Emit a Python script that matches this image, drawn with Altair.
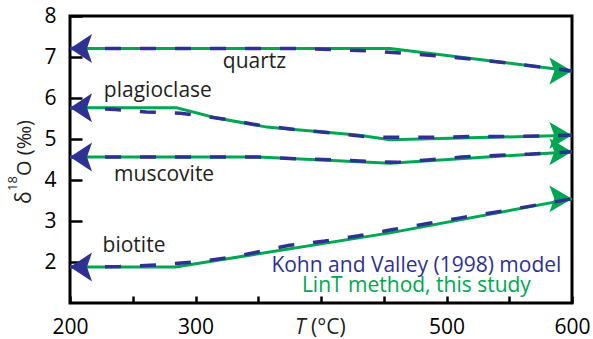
import altair as alt
import pandas as pd

GREEN = "#00a651"
BLUE = "#2e3192"
FONT = "Open Sans"

minerals = ["quartz", "plagioclase", "muscovite", "biotite"]

# LinT method (green, solid)
lint_T = {
    "quartz": [200, 455, 600],
    "plagioclase": [200, 285, 317, 357, 383, 429, 455, 600],
    "muscovite": [200, 350, 455, 600],
    "biotite": [200, 284, 455, 600],
}
lint_v = {
    "quartz": [7.21, 7.21, 6.66],
    "plagioclase": [5.76, 5.76, 5.51, 5.29, 5.22, 5.10, 4.98, 5.09],
    "muscovite": [4.56, 4.56, 4.41, 4.69],
    "biotite": [1.88, 1.88, 2.71, 3.54],
}

# Kohn and Valley (1998) model (blue, dashed)
kv_T = {
    "quartz": [200, 380, 440, 500, 550, 600],
    "plagioclase": [200, 236, 261, 288, 322, 350, 380, 410, 437, 460, 490, 520, 545, 600],
    "muscovite": [200, 350, 379, 411, 439, 461, 485, 512, 539, 565, 600],
    "biotite": [200, 240, 270, 300, 330, 375, 403, 430, 455, 485, 510, 540, 600],
}
kv_v = {
    "quartz": [7.21, 7.21, 7.15, 7.01, 6.85, 6.66],
    "plagioclase": [5.76, 5.72, 5.66, 5.63, 5.49, 5.34, 5.23, 5.14, 5.05, 5.04, 5.04, 5.06, 5.06, 5.09],
    "muscovite": [4.56, 4.56, 4.52, 4.49, 4.45, 4.43, 4.49, 4.56, 4.60, 4.63, 4.69],
    "biotite": [1.88, 1.89, 1.93, 2.00, 2.12, 2.41, 2.51, 2.64, 2.78, 2.94, 3.07, 3.22, 3.54],
}

# mineral label positions (T, value)
label_T = [347, 270, 275, 251]
label_v = [6.73, 6.02, 3.98, 2.24]

legend_texts = ["Kohn and Valley (1998) model", "LinT method, this study"]
legend_T = [476, 476]
legend_v = [1.756, 1.26]

x_ticks = [200, 250, 300, 350, 400, 450, 500, 550, 600]
y_ticks = [2, 3, 4, 5, 6, 7, 8]

rows = []
for m in minerals:
    for t, v in zip(lint_T[m], lint_v[m]):
        rows.append({"mineral": m, "method": "LinT", "T": t, "v": v})
    for t, v in zip(kv_T[m], kv_v[m]):
        rows.append({"mineral": m, "method": "KV", "T": t, "v": v})
df = pd.DataFrame(rows)
lint_df = df[df.method == "LinT"]
kv_df = df[df.method == "KV"]

right_end = lint_df[lint_df["T"] == 600]
left_end = kv_df[kv_df["T"] == 200]

labels_df = pd.DataFrame({"text": minerals, "T": label_T, "v": label_v})
legend_df = pd.DataFrame({"text": legend_texts, "T": legend_T, "v": legend_v,
                          "color": [BLUE, GREEN]})

xscale = alt.Scale(domain=[200, 600], nice=False, zero=False)
yscale = alt.Scale(domain=[1, 8], nice=False, zero=False)

xaxis = alt.Axis(values=x_ticks, title=None, domain=False, grid=False,
                 tickSize=7, offset=-7, tickWidth=2.5, tickColor="black",
                 labelExpr="(datum.value % 100 == 0 && datum.value != 400) ? datum.label : ''",
                 labelFont=FONT, labelFontSize=21, labelColor="black", labelPadding=13,
                 labelFlush=False)
yaxis = alt.Axis(values=y_ticks, title=None, domain=False, grid=False,
                 tickSize=12, offset=-12, tickWidth=2.5, tickColor="black",
                 labelFont=FONT, labelFontSize=21, labelColor="black", labelPadding=14,
                 labelFlush=False)

X = alt.X("T:Q", scale=xscale, axis=xaxis)
Y = alt.Y("v:Q", scale=yscale, axis=yaxis)

left_arrow = "M0,0L1.52,-1L1.17,0L1.52,1Z"
right_arrow = "M0,0L-1.6,-0.95L-1.25,0L-1.6,0.95Z"

green_lines = alt.Chart(lint_df).mark_line(color=GREEN, strokeWidth=3).encode(
    x=X, y=Y, detail="mineral:N")
green_arrows = alt.Chart(right_end).mark_point(
    shape=right_arrow, filled=True, fill=GREEN, stroke=GREEN, strokeWidth=0,
    size=800, opacity=1).encode(x=X, y=Y)
blue_lines = alt.Chart(kv_df).mark_line(color=BLUE, strokeWidth=3.5,
                                         strokeDash=[16, 19]).encode(
    x=X, y=Y, detail="mineral:N")
blue_arrows = alt.Chart(left_end).mark_point(
    shape=left_arrow, filled=True, fill=BLUE, stroke=BLUE, strokeWidth=0,
    size=841, opacity=1).encode(x=X, y=Y)

mineral_labels = alt.Chart(labels_df).mark_text(
    font=FONT, fontSize=21, color="#231f20", align="center",
    baseline="alphabetic").encode(x=X, y=Y, text="text:N")

legend_labels = alt.Chart(legend_df).mark_text(
    font=FONT, fontSize=21, align="center", baseline="alphabetic").encode(
    x=X, y=Y, text="text:N", color=alt.Color("color:N", scale=None))

# y-axis title: δ18O (‰)
ytitle_main1 = alt.Chart().mark_text(
    text="δ", font=FONT, fontSize=21, angle=270, align="left",
    baseline="alphabetic", color="#231f20").encode(
    x=alt.value(-39), y=alt.value(188))
ytitle_sup = alt.Chart().mark_text(
    text="18", font=FONT, fontSize=13, angle=270, align="left",
    baseline="alphabetic", color="#231f20").encode(
    x=alt.value(-53), y=alt.value(175))
ytitle_main2 = alt.Chart().mark_text(
    text="O (‰)", font=FONT, fontSize=20, angle=270, align="left",
    baseline="alphabetic", color="#231f20").encode(
    x=alt.value(-39), y=alt.value(160))

# x-axis title T (°C) in place of the 400 label
xt_T = alt.Chart().mark_text(
    text="T", font=FONT, fontSize=21, fontStyle="italic", align="left",
    baseline="alphabetic", color="#231f20", dx=-26).encode(
    x=alt.datum(400, scale=xscale), y=alt.value(318))
xt_unit = alt.Chart().mark_text(
    text="(°C)", font=FONT, fontSize=21, align="left",
    baseline="alphabetic", color="#231f20", dx=-10).encode(
    x=alt.datum(400, scale=xscale), y=alt.value(318))

chart = alt.layer(
    green_lines, green_arrows, blue_lines, blue_arrows,
    mineral_labels, legend_labels,
    ytitle_main1, ytitle_sup, ytitle_main2, xt_T, xt_unit,
).properties(
    width=502, height=287,
    autosize=alt.AutoSizeParams(type="none"),
    padding={"left": 70, "top": 16, "right": 21, "bottom": 36},
    background="white",
).configure_view(stroke="black", strokeWidth=3)

chart.save("out.html", embed_options={"renderer": "svg", "actions": False})
